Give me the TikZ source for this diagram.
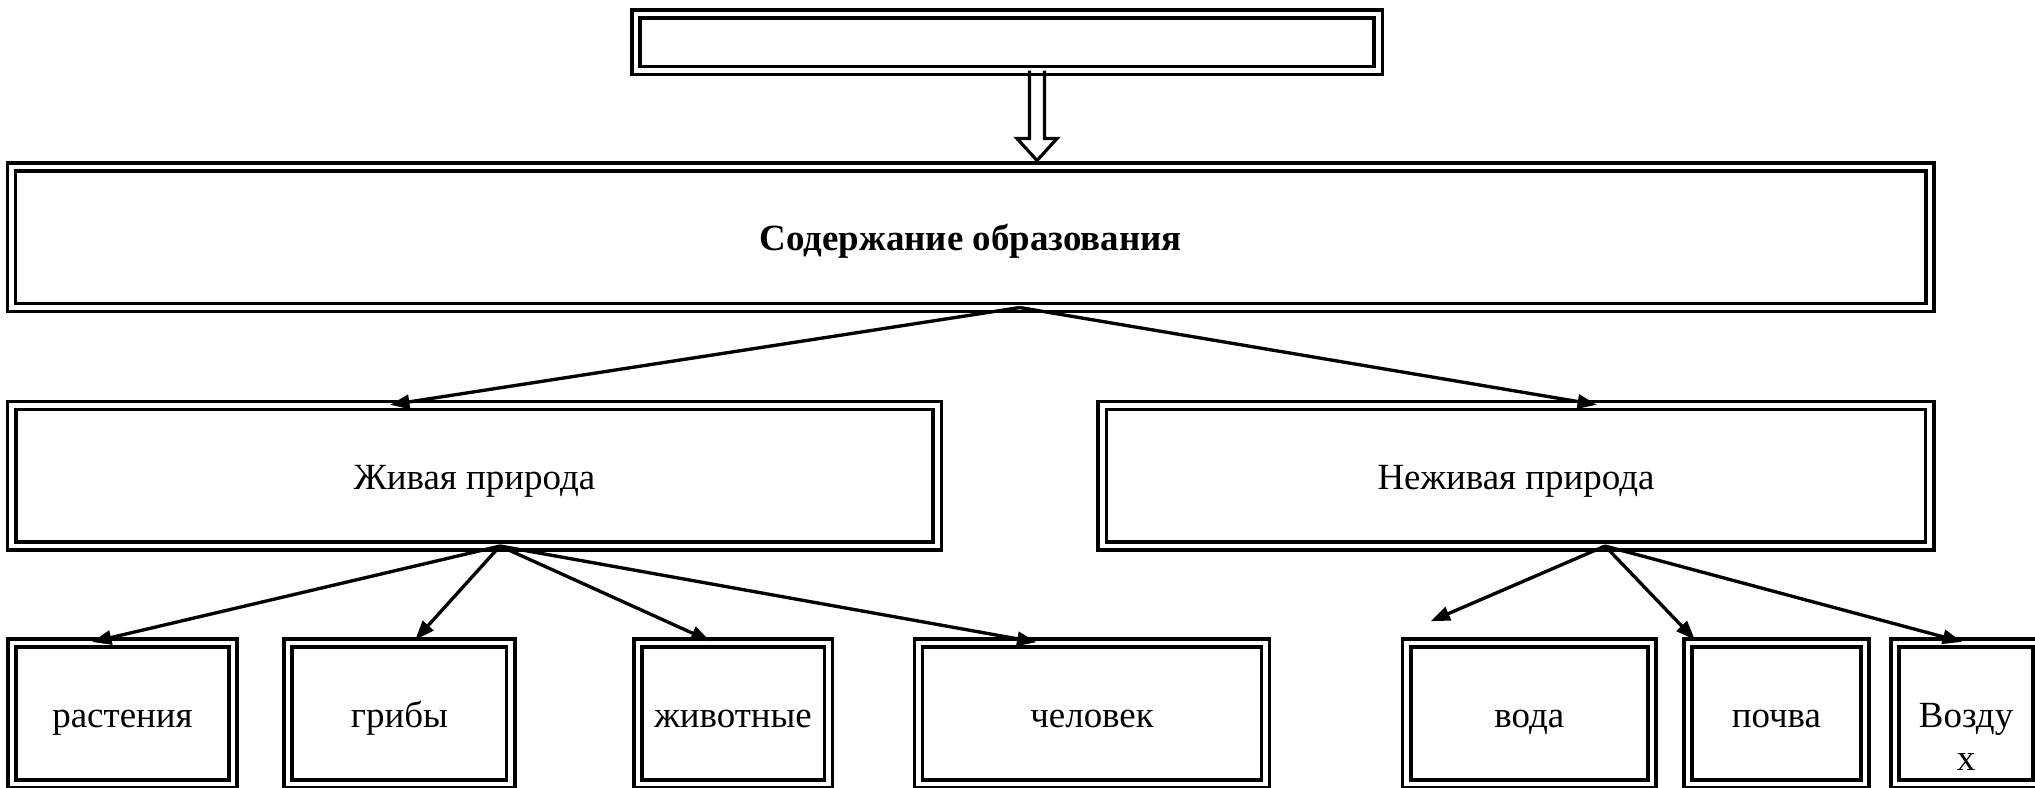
\documentclass[tikz,border=0pt]{standalone}
\usepackage{fontspec}
\setmainfont{Liberation Serif}
\usetikzlibrary{arrows.meta,positioning}

\begin{document}
\begin{tikzpicture}[x=0.01cm,y=-0.01cm,node distance=0.55cm,>={Triangle[length=5.5pt,width=4pt]},font=\fontsize{10.5}{12.2}\selectfont]
	\tikzstyle{box}=[rectangle, draw=black, line width=1pt, double, double distance=1.3pt, inner sep=2pt, outer sep=0pt, align=center, text height=10.3pt, text depth=2.5pt]
	\tikzstyle{wide box}=[box, minimum height=1.405cm]
	\tikzstyle{leaf}=[box, minimum height=1.41cm]
	\tikzstyle{link}=[->, line width=0.95pt, shorten >=1.2pt]
	\tikzstyle{hollow}=[line width=0.9pt, line join=miter]

	\useasboundingbox (0,0) rectangle (2035,788);

	\node [box, minimum width=7.42cm, minimum height=0.565cm, text height=, text depth=] (top) at (1007,42.25) {};
	\node [wide box, minimum width=19.175cm, font=\fontsize{10.5}{12.2}\selectfont\bfseries] (content) at (970.75,237.25) {Содержание образования};
	\node [wide box, minimum width=9.25cm] (live) at (474.5,475.75) {Живая природа};
	\node [wide box, minimum width=8.27cm] (nonlive) at (1516,475.75) {Неживая природа};

	\node [leaf, minimum width=2.21cm] (plants) at (122.5,713.5) {растения};
	\node [leaf, minimum width=2.225cm] (fungi) [right=0.55cm of plants] {грибы};
	\node [leaf, minimum width=1.905cm] (animals) [right=1.27cm of fungi] {животные};
	\node [leaf, minimum width=3.47cm] (human) [right=0.9cm of animals] {человек};
	\node [leaf, minimum width=2.45cm] (water) [right=1.41cm of human] {вода};
	\node [leaf, minimum width=1.77cm] (soil) [right=0.36cm of water] {почва};
	\node [leaf, minimum width=1.42cm, text height=32.2pt, text depth=0pt] (air) [right=0.3cm of soil] {Возду\\х};

	\draw [hollow] ([xshift=0.225cm]top.south) -- ++(0,68) -- ++(-12.5,0) -- ++(20,22) -- ++(20,-22) -- ++(-12.5,0) -- ++(0,-68);

	\draw [link] ([xshift=0.49cm]content.south) -- ([xshift=-0.885cm]live.north);
	\draw [link] ([xshift=0.49cm]content.south) -- ([xshift=0.85cm]nonlive.north);

	\draw [link] ([xshift=0.255cm]live.south) -- ([xshift=-0.345cm]plants.north);
	\draw [link] ([xshift=0.255cm]live.south) -- ([xshift=0.13cm]fungi.north);
	\draw [link] ([xshift=0.255cm]live.south) -- ([xshift=-0.19cm]animals.north);
	\draw [link] ([xshift=0.255cm]live.south) -- ([xshift=-0.515cm]human.north);

	\draw [link] ([xshift=0.89cm]nonlive.south) -- ([xshift=-1.025cm,yshift=0.2cm]water.north);
	\draw [link] ([xshift=0.89cm]nonlive.south) -- ([xshift=-0.785cm]soil.north);
	\draw [link] ([xshift=0.89cm]nonlive.south) -- (air.north);
\end{tikzpicture}
\end{document}
